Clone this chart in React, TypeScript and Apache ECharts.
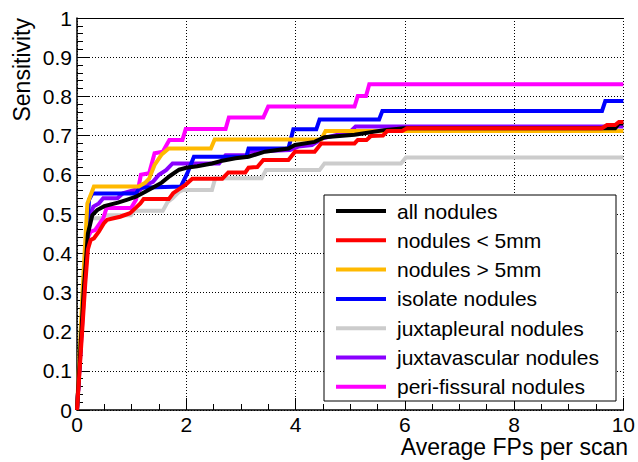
import { useEffect, useRef } from "react";
import * as echarts from "echarts";

// FROC curves: sensitivity vs. average false positives per scan
const seriesNames = [
  "all nodules",
  "nodules < 5mm",
  "nodules > 5mm",
  "isolate nodules",
  "juxtapleural nodules",
  "juxtavascular nodules",
  "peri-fissural nodules",
];

const seriesColors = ["#000000", "#ff0000", "#ffb900", "#0000ff", "#cccccc", "#8a00ff", "#ff00ff"];

const allNodules = [
  [0, 0], [0.12, 0.3], [0.2, 0.45], [0.28, 0.497], [0.37, 0.51], [0.5, 0.52], [0.75, 0.529],
  [0.91, 0.536], [1.08, 0.544], [1.25, 0.557], [1.4, 0.568], [1.55, 0.58], [1.7, 0.597],
  [1.87, 0.613], [2.0, 0.618], [2.2, 0.622], [2.47, 0.629], [2.66, 0.636], [2.9, 0.642],
  [3.14, 0.646], [3.44, 0.659], [3.87, 0.667], [3.99, 0.676], [4.35, 0.684], [4.53, 0.696],
  [5.08, 0.702], [5.26, 0.706], [5.62, 0.714], [5.98, 0.719], [9.85, 0.719], [9.92, 0.731], [10, 0.731],
];

const smallNodules = [
  [0, 0], [0.15, 0.32], [0.2, 0.41], [0.25, 0.434], [0.31, 0.438], [0.4, 0.455], [0.49, 0.476],
  [0.55, 0.485], [0.67, 0.489], [0.79, 0.493], [0.97, 0.502], [1.07, 0.515], [1.16, 0.527],
  [1.22, 0.538], [1.68, 0.538], [1.76, 0.553], [1.99, 0.575], [2.11, 0.59], [2.66, 0.59],
  [2.77, 0.606], [3.08, 0.606], [3.14, 0.618], [3.3, 0.62], [3.41, 0.638], [3.87, 0.638],
  [3.99, 0.659], [4.35, 0.659], [4.47, 0.68], [5.08, 0.68], [5.14, 0.689], [5.3, 0.689],
  [5.38, 0.699], [5.6, 0.7], [5.68, 0.712], [5.95, 0.712], [6.04, 0.719], [9.61, 0.719],
  [9.7, 0.727], [9.85, 0.727], [9.92, 0.735], [10, 0.735],
];

const largeNodules = [
  [0, 0], [0.1, 0.3], [0.19, 0.527], [0.31, 0.57], [1.13, 0.57], [1.25, 0.58], [1.32, 0.59],
  [1.42, 0.625], [1.55, 0.652], [1.68, 0.667], [2.45, 0.667], [2.52, 0.69], [4.47, 0.69],
  [4.55, 0.712], [10, 0.712],
];

const isolateNodules = [
  [0, 0], [0.12, 0.3], [0.16, 0.383], [0.22, 0.536], [0.28, 0.552], [1.08, 0.552], [1.14, 0.567],
  [1.9, 0.57], [1.96, 0.587], [2.02, 0.604], [2.14, 0.646], [3.1, 0.646], [3.14, 0.667],
  [3.87, 0.667], [3.96, 0.716], [4.38, 0.716], [4.44, 0.741], [5.53, 0.741], [5.59, 0.763],
  [9.61, 0.763], [9.67, 0.788], [10, 0.788],
];

const juxtapleuralNodules = [
  [0, 0], [0.13, 0.3], [0.2, 0.47], [0.24, 0.489], [0.47, 0.489], [0.51, 0.497], [0.99, 0.497],
  [1.05, 0.508], [1.57, 0.508], [1.66, 0.531], [1.75, 0.54], [1.87, 0.557], [1.93, 0.561],
  [2.47, 0.561], [2.53, 0.591], [3.38, 0.591], [3.46, 0.612], [4.44, 0.612], [4.53, 0.629],
  [5.93, 0.629], [6.02, 0.644], [10, 0.644],
];

const juxtavascularNodules = [
  [0, 0], [0.12, 0.3], [0.21, 0.485], [0.3, 0.519], [0.4, 0.527], [0.48, 0.54], [0.74, 0.54],
  [0.84, 0.553], [1.05, 0.561], [1.15, 0.561], [1.26, 0.574], [1.39, 0.582], [1.5, 0.6],
  [1.63, 0.612], [1.75, 0.629], [2.6, 0.629], [2.72, 0.65], [3.1, 0.65], [3.16, 0.659],
  [3.9, 0.663], [4.05, 0.672], [4.3, 0.676], [4.5, 0.693], [5.0, 0.71], [5.1, 0.723], [10, 0.723],
];

const periFissuralNodules = [
  [0, 0], [0.13, 0.3], [0.2, 0.44], [0.25, 0.455], [0.33, 0.459], [0.48, 0.489], [0.54, 0.515],
  [0.99, 0.515], [1.08, 0.536], [1.17, 0.6], [1.32, 0.604], [1.42, 0.655], [1.57, 0.659],
  [1.69, 0.689], [1.93, 0.689], [1.99, 0.717], [2.72, 0.717], [2.78, 0.746], [3.41, 0.746],
  [3.5, 0.774], [5.08, 0.774], [5.14, 0.801], [5.29, 0.801], [5.35, 0.831], [10, 0.831],
];

const seriesData = [
  allNodules,
  smallNodules,
  largeNodules,
  isolateNodules,
  juxtapleuralNodules,
  juxtavascularNodules,
  periFissuralNodules,
];

// drawing order (later = on top)
const drawOrder = [4, 5, 6, 3, 2, 0, 1];

const FONT = "'Liberation Sans', Arial, Helvetica, sans-serif";

export default function App() {
  const ref = useRef<HTMLDivElement>(null);

  useEffect(() => {
    const chart = echarts.init(ref.current!, null, { renderer: "svg" });

    const series = drawOrder.map((i) => ({
      name: seriesNames[i],
      type: "line",
      data: seriesData[i],
      showSymbol: false,
      symbol: "none",
      color: seriesColors[i],
      lineStyle: { color: seriesColors[i], width: 4, join: "miter" },
      z: 2,
    }));

    chart.setOption({
      animation: false,
      backgroundColor: "#ffffff",
      textStyle: { fontFamily: FONT },
      grid: { left: 77, top: 18, width: 551, height: 392, containLabel: false },
      xAxis: [
        {
          type: "value",
          min: 0,
          max: 10,
          interval: 2,
          axisLine: { show: true, onZero: false, lineStyle: { color: "#000", width: 1.5 } },
          axisTick: { show: true, inside: true, length: 12, lineStyle: { color: "#000", width: 1 } },
          minorTick: { show: true, splitNumber: 4, length: 6, lineStyle: { color: "#000", width: 1 } },
          axisLabel: { color: "#000", fontSize: 21, fontFamily: FONT, margin: 4 },
          splitLine: { show: true, lineStyle: { color: "#000", width: 1, type: [1, 2] } },
        },
        {
          type: "value",
          position: "top",
          min: 0,
          max: 10,
          axisLine: { show: true, onZero: false, lineStyle: { color: "#000", width: 1 } },
          axisTick: { show: false },
          axisLabel: { show: false },
          splitLine: { show: false },
        },
      ],
      yAxis: {
        type: "value",
        min: 0,
        max: 1,
        interval: 0.1,
        axisLine: { show: true, onZero: false, lineStyle: { color: "#000", width: 1.5 } },
        axisTick: { show: true, inside: true, length: 12, lineStyle: { color: "#000", width: 1 } },
        minorTick: { show: true, splitNumber: 5, length: 6, lineStyle: { color: "#000", width: 1 } },
        axisLabel: { color: "#000", fontSize: 21, fontFamily: FONT, margin: 5 },
        splitLine: { show: true, lineStyle: { color: "#000", width: 1, type: [1, 2] } },
      },
      legend: {
        data: seriesNames,
        orient: "vertical",
        left: 336,
        top: 200,
        padding: 0,
        icon: "rect",
        itemWidth: 50,
        itemHeight: 4,
        itemGap: 7.3,
        selectedMode: false,
        z: 4,
        textStyle: {
          color: "#000",
          fontSize: 21,
          fontFamily: FONT,
          lineHeight: 22,
          padding: [0, 0, 0, 6],
        },
      },
      graphic: [
        {
          type: "rect",
          z: 3,
          shape: { x: 324, y: 195, width: 292, height: 206 },
          style: { fill: "#ffffff", stroke: "#000000", lineWidth: 1 },
        },
        {
          type: "text",
          x: 22,
          y: 18,
          rotation: Math.PI / 2,
          style: {
            text: "Sensitivity",
            fill: "#000",
            font: `23px ${FONT}`,
            align: "right",
            verticalAlign: "middle",
          },
        },
        {
          type: "text",
          x: 628,
          y: 447,
          style: {
            text: "Average FPs per scan",
            fill: "#000",
            font: `23px ${FONT}`,
            align: "right",
            verticalAlign: "middle",
          },
        },
      ],
      series,
    });

    return () => chart.dispose();
  }, []);

  return (
    <div
      ref={ref}
      style={{ position: "fixed", left: 0, top: 0, width: 638, height: 462 }}
    />
  );
}
